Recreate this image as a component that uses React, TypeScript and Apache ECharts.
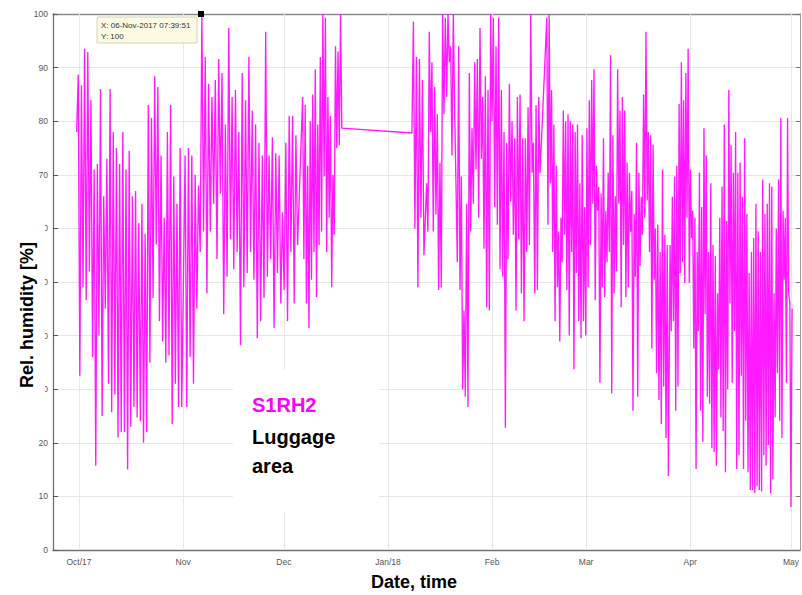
import React, { useEffect, useRef } from "react";
import * as echarts from "echarts";

// ---- axis / ticks ----
const xMinDate = "2017-09-23T06:00:00";
const xMaxDate = "2018-05-03T16:00:00";
const monthTicks = [
  "2017-10-01T00:00:00",
  "2017-11-01T00:00:00",
  "2017-12-01T00:00:00",
  "2018-01-01T00:00:00",
  "2018-02-01T00:00:00",
  "2018-03-01T00:00:00",
  "2018-04-01T00:00:00",
  "2018-05-01T00:00:00",
];
const monthLabels = ["Oct/17", "Nov", "Dec", "Jan/18", "Feb", "Mar", "Apr", "May"];

// ---- datatip ----
const tipTime = "2017-11-06T07:39:51";
const tipValue = 100;

// ---- measured segments (regular sampling between start and end) ----
const segAStart = "2017-09-30T07:00:00";
const segAEnd = "2017-10-31T14:00:00";
const segAValues = [
  78, 88.7, 32.5, 86.7, 49, 93.5, 46.6, 92.9, 52, 84, 36, 71, 15.7, 72, 40, 86, 25, 66, 45,
  73, 31, 86, 25.7, 78, 29, 75, 21, 72, 22, 78, 22, 71, 15, 74.5, 23, 66, 26.7, 67, 24.7,
  61, 24, 64.6, 20, 59, 22, 83, 35, 80.6, 47, 88.4, 57, 86.4, 42.7, 73.6, 38.9, 62, 35,
  78, 36.3, 83, 23.5, 69.7, 31, 64.6, 26.7, 75, 26.7,
];

const segBStart = "2017-11-01T14:00:00";
const segBEnd = "2017-12-05T02:00:00";
const segBValues = [
  73.6, 26.7, 75, 36, 73.6, 31, 70, 45, 68, 55.6, 100, 59.4, 92, 47.9, 87, 59.4, 84.5, 64.6,
  87.7, 54.3, 91.6, 66.5, 89, 44, 79.4, 51, 97.4, 58, 84.5, 52.4, 85.8, 55.6, 78, 38.2, 89,
  49, 83.9, 51.7, 92, 55.6, 82, 50.4, 79.4, 39.5, 76, 42.7, 73.6, 47, 96.7, 51, 73.6, 54.3,
  77, 41.4, 74, 51.7, 73.6, 46, 63, 48.5, 76, 42.7, 81, 55.6, 81, 46, 77.4, 56.9,
];

const segCStart = "2017-12-06T14:00:00";
const segCEnd = "2017-12-18T06:00:00";
const segCValues = [
  84.5, 54.3, 83, 46, 71.7, 41.4, 80, 50.4, 85, 55.6, 89.7, 47.2, 79.4, 56.9, 92, 59.4, 100,
  69.7, 99.3, 55.6, 84.5, 62, 81, 49, 70, 58.8, 94, 75, 93, 75.5, 100, 78.7,
];

const segDStart = "2018-01-08T03:00:00";
const segDEnd = "2018-01-11T17:00:00";
const segDValues = [77.8, 98.6, 60, 92, 49, 91.6, 62, 87.7, 55];

const segEStart = "2018-01-12T12:00:00";
const segEEnd = "2018-02-15T07:00:00";
const segEValues = [
  68.4, 59.4, 96.7, 78, 91, 59.4, 86.4, 62.6, 81.3, 48.5, 72.3, 49, 100, 81.3, 99.3, 84.5,
  100, 91, 94, 73.6, 100, 82, 68.4, 53.7, 94, 48.5, 69.7, 30, 44.7, 28.6, 64.6, 26.7, 89,
  59.4, 78.7, 64.6, 91, 71, 91.6, 62, 97.4, 73, 84.5, 56.2, 88.4, 45.3, 85.8, 44.7, 100, 80,
  99.3, 64, 94, 60.7, 99.3, 52.4, 85.8, 51, 78, 22.8, 76, 54.3, 87, 65, 80, 58.8, 76.8, 44.7,
  84.5, 58, 85, 47.9, 76.8, 42.7, 76.8, 55.6, 82.6, 56.9, 100, 70.4, 76, 47.9, 83, 48.5,
  84.5, 70.4,
];

const segFStart = "2018-02-17T07:00:00";
const segFEnd = "2018-03-25T12:00:00";
const segFValues = [
  99.3, 60.7, 100, 68.4, 85.8, 55.6, 79.4, 42.7, 71.7, 49, 59.4, 38.9, 62, 53.7, 82, 58.8,
  80, 48.5, 81.3, 40, 80, 55.6, 79.4, 33.7, 78, 51.7, 79.4, 42.7, 68.4, 39.5, 77.4, 42.7,
  64, 40, 78.7, 49, 83.9, 56.9, 87.7, 64.6, 89.7, 46.6, 71.7, 63.3, 67.7, 31.2, 66.5, 49,
  76.8, 47.2, 63.3, 53.7, 70.4, 55.6, 92.3, 29.2, 77.4, 47.9, 66, 52, 89.7, 64.6, 82, 45.3,
  84.5, 56.9, 82, 47.2, 72.3, 49, 70.4, 59.4, 67, 26, 62.7, 51, 76, 28.6, 70.4, 53, 65.9,
  58.8, 85, 62, 96.7, 65.2, 78, 55.6, 77.4, 37.6, 75.6, 50.4, 60, 33, 60.7, 28, 55.6, 23.5,
  71, 30.5, 58.8, 20.9, 56.9, 13.8,
];

const segGStart = "2018-03-26T00:00:00";
const segGEnd = "2018-05-01T08:00:00";
const segGValues = [
  56.9, 40.8, 65.9, 42.7, 69.7, 26, 71.7, 30.5, 83.2, 51.7, 91, 53.7, 83.9, 49.8, 89, 62,
  93.5, 49.8, 71, 58.2, 63.3, 37.6, 62, 15.1, 55.6, 40.8, 70.4, 26, 64, 20.2, 78.7, 44, 73.6,
  28.6, 55.6, 27.3, 68.4, 19, 56.9, 18.3, 54.9, 15.7, 47.9, 33.7, 62, 24.7, 67.8, 22.2, 79.4,
  14.5, 61.4, 30, 85.8, 46, 75.5, 31.2, 70.4, 40.8, 78, 15.1, 70.4, 17.7, 72.3, 32.5, 65.9,
  15.1, 76.8, 24.1, 62.7, 14.5, 51.7, 11.2, 55.6, 11.2, 58.2, 10.6, 64.6, 11.9, 59.4, 11.2,
  55.6, 10.9, 69.1, 17.7, 62.7, 15.7, 64.6, 19.6, 68.4, 10.6, 67.8, 13.2, 47.9, 24.7, 60, 33,
  69.1, 24.1, 80.6, 20.9, 63.3, 50.4, 62, 31.2, 80.6, 47.9, 46, 8, 45,
];

const ts = (s: string) => new Date(s).getTime();

function segment(start: string, end: string, values: number[]) {
  const t0 = ts(start);
  const t1 = ts(end);
  const n = values.length;
  return values.map((v, i) => [t0 + ((t1 - t0) * i) / (n - 1), v]);
}

const seriesData = [
  ...segment(segAStart, segAEnd, segAValues),
  ...segment(segBStart, segBEnd, segBValues),
  ...segment(segCStart, segCEnd, segCValues),
  ...segment(segDStart, segDEnd, segDValues),
  ...segment(segEStart, segEEnd, segEValues),
  ...segment(segFStart, segFEnd, segFValues),
  ...segment(segGStart, segGEnd, segGValues),
];

const tickTs = monthTicks.map(ts);
const labelFor = (v: number) => {
  let best = 0;
  let bd = Infinity;
  tickTs.forEach((t, i) => {
    const d = Math.abs(t - v);
    if (d < bd) {
      bd = d;
      best = i;
    }
  });
  return monthLabels[best];
};

const FONT = '"Liberation Sans", Arial, Helvetica, sans-serif';

export default function App() {
  const ref = useRef<HTMLDivElement>(null);
  useEffect(() => {
    const chart = echarts.init(ref.current!, null, { renderer: "svg" });
    const xMin = ts(xMinDate);
    const xMax = ts(xMaxDate);
    chart.setOption({
      animation: false,
      backgroundColor: "#ffffff",
      textStyle: { fontFamily: FONT },
      grid: { left: 53, top: 14, right: 2, bottom: 45 },
      xAxis: [
        {
          type: "value",
          min: xMin,
          max: xMax,
          position: "bottom",
          axisLine: { show: true, onZero: false, lineStyle: { color: "#707070", width: 1.3 } },
          axisTick: {
            show: true,
            inside: true,
            length: 5,
            customValues: tickTs,
            lineStyle: { color: "#555" },
          },
          axisLabel: {
            customValues: tickTs,
            formatter: (v: number) => labelFor(v),
            fontSize: 8.5,
            color: "#555",
            margin: 7,
            fontFamily: FONT,
          },
          splitLine: { show: false },
        },
        {
          type: "value",
          min: xMin,
          max: xMax,
          position: "top",
          axisLine: { show: true, onZero: false, lineStyle: { color: "#8a8a8a", width: 1.3 } },
          axisTick: { show: true, inside: true, length: 4, customValues: tickTs, lineStyle: { color: "#777" } },
          axisLabel: { show: false },
          splitLine: { show: false },
        },
      ],
      yAxis: [
        {
          type: "value",
          min: 0,
          max: 100,
          interval: 10,
          axisLine: { show: true, onZero: false, lineStyle: { color: "#707070", width: 1.3 } },
          axisTick: { show: true, inside: true, length: 5, lineStyle: { color: "#555" } },
          axisLabel: { fontSize: 8.5, color: "#555", margin: 5, fontFamily: FONT },
          splitLine: { show: true, lineStyle: { color: "#e6e6e6", width: 1 } },
        },
        {
          type: "value",
          min: 0,
          max: 100,
          interval: 10,
          position: "right",
          axisLine: { show: true, onZero: false, lineStyle: { color: "#9a9a9a", width: 1 } },
          axisTick: { show: true, inside: true, length: 4, lineStyle: { color: "#777" } },
          axisLabel: { show: false },
          splitLine: { show: false },
        },
      ],
      series: [
        {
          type: "line",
          name: "grid",
          data: [],
          z: 1,
          markLine: {
            silent: true,
            z: 1,
            symbol: ["none", "none"],
            label: { show: false },
            lineStyle: { color: "#e6e6e6", width: 1, type: "solid" },
            data: tickTs.map((t) => ({ xAxis: t })),
          },
        },
        {
          type: "line",
          name: "S1RH2",
          data: seriesData,
          z: 3,
          showSymbol: false,
          symbol: "none",
          lineStyle: { color: "#ff1aff", width: 1.35 },
          itemStyle: { color: "#ff1aff" },
          markPoint: {
            symbol: "rect",
            symbolSize: 6,
            itemStyle: { color: "#000" },
            label: { show: false },
            data: [{ coord: [ts(tipTime), tipValue] }],
          },
        },
      ],
      graphic: [
        { type: "rect", z: 10, shape: { x: 233, y: 370, width: 146, height: 142 }, style: { fill: "#fff" } },
        { type: "text", z: 11, x: 252, y: 405, style: { text: "S1RH2", fill: "#ff00ff", font: `bold 20px ${FONT}`, verticalAlign: "middle" } },
        { type: "text", z: 11, x: 252, y: 437, style: { text: "Luggage", fill: "#000", font: `bold 20px ${FONT}`, verticalAlign: "middle" } },
        { type: "text", z: 11, x: 252, y: 466, style: { text: "area", fill: "#000", font: `bold 20px ${FONT}`, verticalAlign: "middle" } },
        { type: "rect", z: 10, shape: { x: 8, y: 222, width: 37, height: 176 }, style: { fill: "#fff" } },
        {
          type: "text",
          z: 11,
          x: 27,
          y: 315,
          rotation: Math.PI / 2,
          style: { text: "Rel. humidity [%]", fill: "#000", font: `bold 18px ${FONT}`, align: "center", verticalAlign: "middle" },
        },
        {
          type: "text",
          z: 11,
          x: 414,
          y: 582,
          style: { text: "Date, time", fill: "#000", font: `bold 18px ${FONT}`, align: "center", verticalAlign: "middle" },
        },
        {
          type: "rect",
          z: 20,
          shape: { x: 97, y: 17, width: 100, height: 26 },
          style: { fill: "#fbfbe3", stroke: "#c9c9b0", lineWidth: 0.8 },
        },
        { type: "text", z: 21, x: 101, y: 25, style: { text: "X: 06-Nov-2017 07:39:51", fill: "#333", font: `8px ${FONT}`, verticalAlign: "middle" } },
        { type: "text", z: 21, x: 101, y: 36, style: { text: "Y: 100", fill: "#333", font: `8px ${FONT}`, verticalAlign: "middle" } },
      ],
    });
    return () => chart.dispose();
  }, []);
  return (
    <div
      ref={ref}
      style={{ position: "absolute", left: 0, top: 0, width: 802, height: 595, background: "#fff" }}
    />
  );
}
